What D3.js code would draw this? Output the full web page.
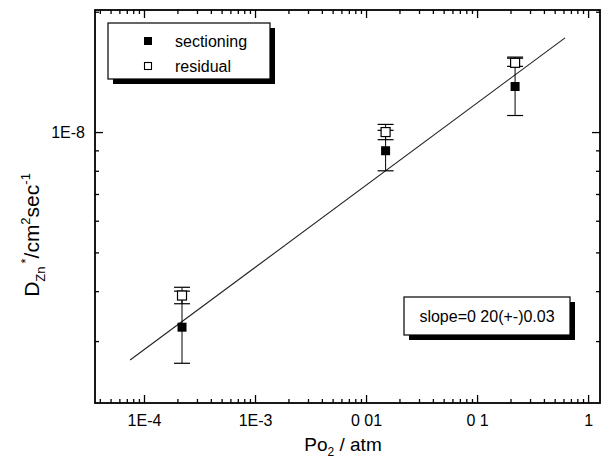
<!DOCTYPE html>
<html>
<head>
<meta charset="utf-8">
<script src="https://cdn.jsdelivr.net/npm/d3@7"></script>
<style>
  body { margin: 0; background: #fff; }
  text { font-family: "Liberation Sans", Arial, sans-serif; fill: #000; }
</style>
</head>
<body>
<svg id="chart" width="606" height="465"></svg>
<script>
// data
const po2 = [2.2e-4, 0.015, 0.22];
const sectioning = [3.25e-9, 8.98e-9, 1.30e-8];
const sectioningLo = [2.64e-9, 8.0e-9, 1.10e-8];
const sectioningHi = [4.0e-9, 1.01e-8, 1.54e-8];
const residual = [3.9e-9, 1.0e-8, 1.49e-8];
const residualLo = [3.72e-9, 9.57e-9, 1.46e-8];
const residualHi = [4.09e-9, 1.045e-8, 1.53e-8];
const fitX = [7.5e-5, 0.62];
const fitY = [2.69e-9, 1.72e-8];
const xTickValues = [1e-4, 1e-3, 1e-2, 1e-1, 1];
const xTickLabels = ['1E-4', '1E-3', '0 01', '0 1', '1'];
const yTickValues = [1e-8];
const yTickLabels = ['1E-8'];
const legendNames = ['sectioning', 'residual'];
const slopeText = 'slope=0 20(+-)0.03';

const FRAME = { left: 95, right: 600, top: 10, bottom: 403 };

const x = d3.scaleLog()
  .domain([3.62e-5, 1.28])
  .range([FRAME.left, FRAME.right]);

const y = d3.scaleLog()
  .domain([2.1e-9, 2.02e-8])
  .range([FRAME.bottom, FRAME.top]);

const svg = d3.select('#chart');

// minor ticks: 2..9 of each decade inside the domain
function minorTicks(scale) {
  const [a, b] = scale.domain();
  const out = [];
  for (let e = Math.floor(Math.log10(a)); e <= Math.ceil(Math.log10(b)); e++) {
    for (let m = 2; m <= 9; m++) {
      const v = m * Math.pow(10, e);
      if (v >= a && v <= b) out.push(v);
    }
  }
  return out;
}

const fmtX = d => xTickLabels[xTickValues.indexOf(d)];
const fmtY = d => yTickLabels[yTickValues.indexOf(d)];

// bottom axis
svg.append('g')
  .attr('transform', `translate(0,${FRAME.bottom})`)
  .call(d3.axisBottom(x).tickValues(xTickValues).tickFormat(fmtX).tickSizeInner(-8).tickSizeOuter(0).tickPadding(12))
  .call(g => g.select('.domain').remove())
  .call(g => g.selectAll('text').attr('font-size', 16));
svg.append('g')
  .attr('transform', `translate(0,${FRAME.bottom})`)
  .call(d3.axisBottom(x).tickValues(minorTicks(x)).tickFormat('').tickSizeInner(-4).tickSizeOuter(0))
  .call(g => g.select('.domain').remove());

// top axis (mirror)
svg.append('g')
  .attr('transform', `translate(0,${FRAME.top})`)
  .call(d3.axisTop(x).tickValues(xTickValues).tickFormat('').tickSizeInner(-8).tickSizeOuter(0))
  .call(g => g.select('.domain').remove());
svg.append('g')
  .attr('transform', `translate(0,${FRAME.top})`)
  .call(d3.axisTop(x).tickValues(minorTicks(x)).tickFormat('').tickSizeInner(-4).tickSizeOuter(0))
  .call(g => g.select('.domain').remove());

// left axis
svg.append('g')
  .attr('transform', `translate(${FRAME.left},0)`)
  .call(d3.axisLeft(y).tickValues(yTickValues).tickFormat(fmtY).tickSizeInner(-8).tickSizeOuter(0).tickPadding(10))
  .call(g => g.select('.domain').remove())
  .call(g => g.selectAll('text').attr('font-size', 16));
svg.append('g')
  .attr('transform', `translate(${FRAME.left},0)`)
  .call(d3.axisLeft(y).tickValues(minorTicks(y)).tickFormat('').tickSizeInner(-4).tickSizeOuter(0))
  .call(g => g.select('.domain').remove());

// right axis (mirror)
svg.append('g')
  .attr('transform', `translate(${FRAME.right},0)`)
  .call(d3.axisRight(y).tickValues(yTickValues).tickFormat('').tickSizeInner(-8).tickSizeOuter(0))
  .call(g => g.select('.domain').remove());
svg.append('g')
  .attr('transform', `translate(${FRAME.right},0)`)
  .call(d3.axisRight(y).tickValues(minorTicks(y)).tickFormat('').tickSizeInner(-4).tickSizeOuter(0))
  .call(g => g.select('.domain').remove());

svg.selectAll('.tick line').attr('stroke', '#000').attr('stroke-width', 1.3);

// frame
svg.append('rect')
  .attr('x', FRAME.left).attr('y', FRAME.top)
  .attr('width', FRAME.right - FRAME.left).attr('height', FRAME.bottom - FRAME.top)
  .attr('fill', 'none').attr('stroke', '#000').attr('stroke-width', 1.8);

// fit line
svg.append('line')
  .attr('x1', x(fitX[0])).attr('y1', y(fitY[0]))
  .attr('x2', x(fitX[1])).attr('y2', y(fitY[1]))
  .attr('stroke', '#222').attr('stroke-width', 1.1);

// error bars
function errorBars(vals, lo, hi, cls) {
  const g = svg.append('g').attr('class', cls);
  const cap = 8;
  po2.forEach((p, i) => {
    const cx = x(p);
    g.append('line').attr('x1', cx).attr('x2', cx)
      .attr('y1', y(lo[i])).attr('y2', y(hi[i]))
      .attr('stroke', '#000').attr('stroke-width', 1);
    [lo[i], hi[i]].forEach(v => {
      g.append('line').attr('x1', cx - cap).attr('x2', cx + cap)
        .attr('y1', y(v)).attr('y2', y(v))
        .attr('stroke', '#000').attr('stroke-width', 1.2);
    });
  });
}
errorBars(sectioning, sectioningLo, sectioningHi, 'err-sec');
errorBars(residual, residualLo, residualHi, 'err-res');

const S = 9;
svg.selectAll('.sec').data(sectioning).enter().append('rect')
  .attr('class', 'sec')
  .attr('x', (d, i) => x(po2[i]) - S / 2).attr('y', d => y(d) - S / 2)
  .attr('width', S).attr('height', S).attr('fill', '#000');

svg.selectAll('.res').data(residual).enter().append('rect')
  .attr('class', 'res')
  .attr('x', (d, i) => x(po2[i]) - S / 2).attr('y', d => y(d) - S / 2)
  .attr('width', S).attr('height', S)
  .attr('fill', '#fff').attr('stroke', '#000').attr('stroke-width', 1.2);

// legend box with shadow
const leg = svg.append('g');
leg.append('rect').attr('x', 113).attr('y', 28).attr('width', 162).attr('height', 56).attr('fill', '#000');
leg.append('rect').attr('x', 108).attr('y', 23).attr('width', 162).attr('height', 56)
  .attr('fill', '#fff').attr('stroke', '#000').attr('stroke-width', 1.2);
leg.append('rect').attr('x', 144).attr('y', 37).attr('width', 8).attr('height', 8).attr('fill', '#000');
leg.append('rect').attr('x', 144.5).attr('y', 62.5).attr('width', 7).attr('height', 7)
  .attr('fill', '#fff').attr('stroke', '#000').attr('stroke-width', 1.1);
leg.selectAll('.legtext').data(legendNames).enter().append('text')
  .attr('x', 175).attr('y', (d, i) => 47 + i * 25)
  .attr('font-size', 16).text(d => d);

// slope box with shadow
const sb = svg.append('g');
sb.append('rect').attr('x', 409).attr('y', 302).attr('width', 166).attr('height', 38).attr('fill', '#000');
sb.append('rect').attr('x', 404).attr('y', 297).attr('width', 166).attr('height', 38)
  .attr('fill', '#fff').attr('stroke', '#000').attr('stroke-width', 1.2);
sb.append('text').attr('x', 487).attr('y', 322).attr('text-anchor', 'middle')
  .attr('font-size', 16).text(slopeText);

// x axis title
const xt = svg.append('text').attr('x', 343).attr('y', 451).attr('text-anchor', 'middle').attr('font-size', 19);
xt.append('tspan').text('Po');
xt.append('tspan').attr('font-size', 12).attr('dy', 5).text('2');
xt.append('tspan').attr('dy', -5).text(' / atm');

// y axis title
const yt = svg.append('text').attr('transform', 'translate(39,235) rotate(-90)')
  .attr('text-anchor', 'middle').attr('font-size', 21);
yt.append('tspan').text('D');
yt.append('tspan').attr('font-size', 13).attr('dy', 6).text('Zn');
yt.append('tspan').attr('font-size', 13).attr('dy', -15).attr('dx', 3).text('*');
yt.append('tspan').attr('dy', 9).text('/cm');
yt.append('tspan').attr('font-size', 13).attr('dy', -9).text('2');
yt.append('tspan').attr('dy', 9).text('sec');
yt.append('tspan').attr('font-size', 13).attr('dy', -9).text('-1');
</script>
</body>
</html>
